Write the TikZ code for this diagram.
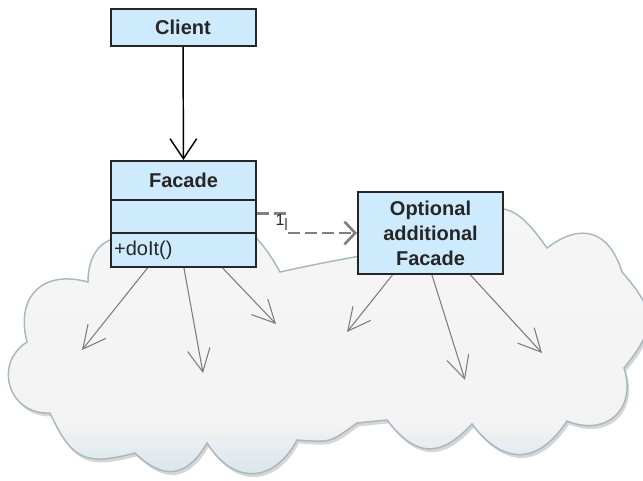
\documentclass[tikz,border=0pt]{standalone}
\usepackage{fontspec}
\setmainfont{Liberation Sans}
\usetikzlibrary{arrows.meta,shadows,calc}
\definecolor{boxfill}{RGB}{206,235,253}
\definecolor{boxline}{RGB}{38,38,38}
\definecolor{cloudline}{RGB}{168,184,192}
\definecolor{cloudtop}{RGB}{246,246,246}
\definecolor{cloudmid}{RGB}{243,243,243}
\definecolor{cloudbot}{RGB}{212,227,234}
\definecolor{arrowgray}{RGB}{125,125,125}
\definecolor{dashgray}{RGB}{128,128,128}
\pgfdeclareverticalshading{cloudshade}{100bp}{color(0bp)=(cloudbot); color(25bp)=(cloudbot); color(36bp)=(cloudmid); color(75bp)=(cloudtop); color(100bp)=(cloudtop)}
% outward bump from #1 to #2 (clockwise on screen), bulge angle #3
\newcommand\cbump[3]{.. controls ($(#1)!0.55!#3:(#2)$) and ($(#2)!0.55!-#3:(#1)$) .. (#2)}
\begin{document}
\begin{tikzpicture}[x=0.75pt,y=-0.75pt,
  cloudbody/.style={draw=cloudline, line width=1.1pt, shading=cloudshade,
    drop shadow={shadow xshift=1.5pt, shadow yshift=-2.5pt, fill=black, opacity=0.16}},
  umlbox/.style={draw=boxline, line width=1.5pt, fill=boxfill, text=black!85,
    inner sep=2pt, minimum width=108.75pt,
    font=\fontsize{15}{18.75}\selectfont\bfseries},
  opbox/.style={draw=boxline, line width=1.5pt, fill=boxfill, text=black!85,
    inner sep=1.5pt, minimum width=108.75pt, text width=104pt, align=left,
    font=\fontsize{15}{18.75}\selectfont},
  assoc/.style={draw=black, line width=1.1pt, -{Straight Barb[length=15pt,width=20pt]}},
  uses/.style={draw=arrowgray, line width=0.8pt, -{Straight Barb[length=17pt,width=17pt]}},
  depend/.style={draw=dashgray, line width=2pt, dash pattern=on 9pt off 3.75pt,
    -{Straight Barb[length=8pt,width=17pt]}},
  mult/.style={font=\fontsize{12}{14}\selectfont, text=black!85, inner sep=0pt}
]
\useasboundingbox (0,0) rectangle (643,480);

% cloud
\path[cloudbody] (88,282) \cbump{88,282}{150,246}{60} \cbump{150,246}{280,272}{50}
  .. controls (320,263) and (345,259) .. (370,254)
  \cbump{370,254}{450,222}{40} \cbump{450,222}{547,248}{40} \cbump{547,248}{622,272}{55}
  \cbump{622,272}{624,368}{40} \cbump{624,368}{567,421}{65} \cbump{567,421}{472,424}{55}
  \cbump{472,424}{387,420}{50} -- (357,423) \cbump{357,423}{297,440}{20}
  \cbump{297,440}{207,443}{60} \cbump{207,443}{135,453}{52} \cbump{135,453}{50,413}{40}
  \cbump{50,413}{27,342}{75} \cbump{27,342}{88,282}{60} -- cycle;

% boxes
\node[umlbox, minimum height=27.75pt] (client) at (183,27.5) {Client};
\node[umlbox, minimum height=29.25pt] (facade-top) at (183.5,180.5) {Facade};
\node[umlbox, minimum height=24.75pt] (facade-mid) at (183.5,216.5) {};
\node[opbox, minimum height=25.5pt] (facade-bot) at (183.5,250) {+doIt()};
\node[umlbox, minimum height=61.5pt, align=center] (opt) at (430.5,233) {Optional\\additional\\Facade};

% connectors
\draw[assoc] (client) -- (facade-top);
\draw[depend] ([yshift=2.5pt]facade-mid.east) -- ++(29,0) coordinate (bend) |- (opt.west);
\node[mult] (one) at ([shift={(-6,7)}]bend) {1};

\coordinate (f1) at (82,350);
\coordinate (f2) at (203,373);
\coordinate (f3) at (276,324);
\coordinate (o1) at (347,332);
\coordinate (o2) at (465,380);
\coordinate (o3) at (542,353);
\draw[uses] ($(facade-bot.south west)!0.255!(facade-bot.south east)$) -- (f1);
\draw[uses] ($(facade-bot.south west)!0.503!(facade-bot.south east)$) -- (f2);
\draw[uses] ($(facade-bot.south west)!0.766!(facade-bot.south east)$) -- (f3);
\draw[uses] ($(opt.south west)!0.241!(opt.south east)$) -- (o1);
\draw[uses] ($(opt.south west)!0.510!(opt.south east)$) -- (o2);
\draw[uses] ($(opt.south west)!0.772!(opt.south east)$) -- (o3);
\end{tikzpicture}
\end{document}
